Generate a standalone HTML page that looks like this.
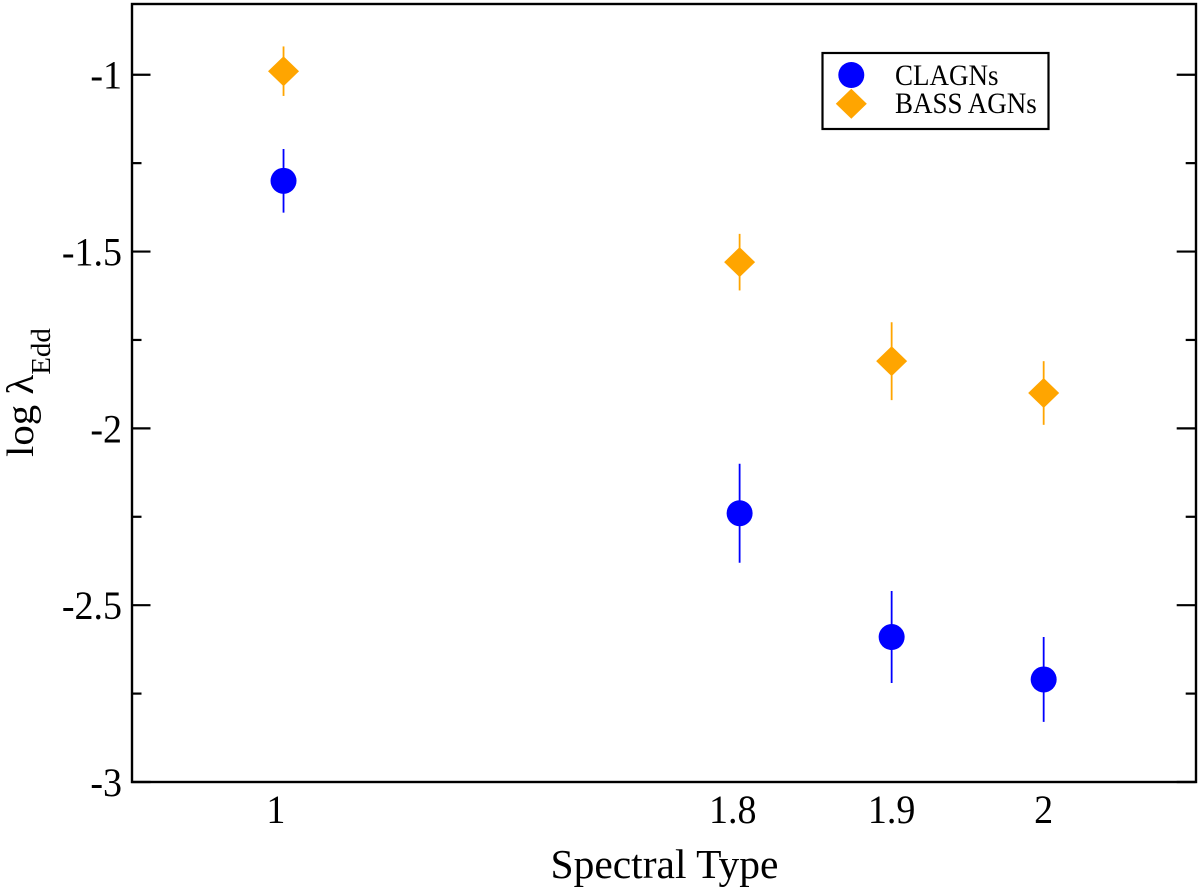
<!DOCTYPE html>
<html lang="en">
<head>
<meta charset="utf-8">
<title>log λEdd vs Spectral Type</title>
<style>
  html, body { margin: 0; padding: 0; background: #fff; }
  svg { display: block; }
  text { font-family: "Liberation Serif", serif; fill: #000; }
</style>
</head>
<body>
<svg id="chart" xmlns="http://www.w3.org/2000/svg" width="1200" height="890" viewBox="0 0 1200 890">
  <rect x="0" y="0" width="1200" height="890" fill="#fff"/>
  <g id="ticks"></g>
  <g id="tick-labels"></g>
  <g id="marks"></g>
  <rect x="132" y="4" width="1064" height="778" fill="none" stroke="#000" stroke-width="2.4"/>
  <text x="664.5" y="878" font-size="41.5" text-anchor="middle">Spectral Type</text>
  <text transform="translate(33,457) rotate(-90) scale(1.075,1)" font-size="38">log λ<tspan font-size="27" dy="17">Edd</tspan></text>
  <g>
    <rect x="822.5" y="53" width="226" height="76" fill="#fff" stroke="#000" stroke-width="2.2"/>
    <circle cx="851.3" cy="75" r="13" fill="#0000ff"/>
    <polygon points="851.3,88.7 866.8,103.7 851.3,118.7 835.8,103.7" fill="#ffa500"/>
    <text transform="translate(895,85) scale(1,1.1)" font-size="27">CLAGNs</text>
    <text transform="translate(895,113) scale(1,1.1)" font-size="27">BASS AGNs</text>
  </g>
</svg>
<script>
// Data
const categoryLabels = ['1', '1.8', '1.9', '2'];
const categorySlots = [1, 4, 5, 6];
const categoryLabelSlots = [0.95, 3.955, 5, 6];
const clagnValues = [-1.30, -2.24, -2.59, -2.71];
const clagnErrors = [0.09, 0.14, 0.13, 0.12];
const bassValues = [-0.99, -1.53, -1.81, -1.90];
const bassErrors = [0.07, 0.08, 0.11, 0.09];
const yMajorTicks = [-1, -1.5, -2, -2.5, -3];
const yMajorTickLabels = ['-1', '-1.5', '-2', '-2.5', '-3'];
const yMinorTicks = [-1.25, -1.75, -2.25, -2.75];

const NS = 'http://www.w3.org/2000/svg';
const plotLeft = 131.5, plotRight = 1195.7, plotTop = 4, plotBottom = 782;
const xMin = 0, xMax = 7, yMin = -3, yMax = -0.8;

function xScale(v) { return plotLeft + (v - xMin) / (xMax - xMin) * (plotRight - plotLeft); }
function yScale(v) { return plotBottom - (v - yMin) / (yMax - yMin) * (plotBottom - plotTop); }

function make(tag, attrs, parent) {
  const el = document.createElementNS(NS, tag);
  for (const k in attrs) el.setAttribute(k, attrs[k]);
  parent.appendChild(el);
  return el;
}

const ticksG = document.getElementById('ticks');
const labelsG = document.getElementById('tick-labels');
const marksG = document.getElementById('marks');

function drawYTick(v, len, kind) {
  const y = yScale(v);
  const left = make('line', { x1: plotLeft, x2: plotLeft + len, y1: y, y2: y, stroke: '#000', 'stroke-width': 2.2 }, ticksG);
  
  
  const right = make('line', { x1: plotRight - len, x2: plotRight, y1: y, y2: y, stroke: '#000', 'stroke-width': 2.2 }, ticksG);
  
  
}

yMajorTicks.forEach(function (v, i) {
  drawYTick(v, 19, 'major');
  const t = make('text', { transform: 'translate(122,' + (yScale(v) + 14) + ') scale(1,1.06)', 'font-size': 38, 'text-anchor': 'end' }, labelsG);
  t.textContent = yMajorTickLabels[i];
  
  
});

yMinorTicks.forEach(function (v) {
  drawYTick(v, 10, 'minor');
});

categoryLabels.forEach(function (label, i) {
  const t = make('text', { transform: 'translate(' + xScale(categoryLabelSlots[i]) + ',823) scale(1,1.06)', 'font-size': 38, 'text-anchor': 'middle' }, labelsG);
  t.textContent = label;
  
  
});

function drawError(slot, value, err, color, parent) {
  const line = make('line', {
    x1: xScale(slot), x2: xScale(slot),
    y1: yScale(value + err), y2: yScale(value - err),
    stroke: color, 'stroke-width': 1.8
  }, parent);
  
  
}

clagnValues.forEach(function (v, i) {
  const slot = categorySlots[i];
  drawError(slot, v, clagnErrors[i], '#0000ff', marksG);
  const c = make('circle', { cx: xScale(slot), cy: yScale(v), r: 13, fill: '#0000ff' }, marksG);
  
  
});

bassValues.forEach(function (v, i) {
  const slot = categorySlots[i];
  drawError(slot, v, bassErrors[i], '#ffa500', marksG);
  const cx = xScale(slot), cy = yScale(v);
  const d = make('polygon', {
    points: cx + ',' + (cy - 15) + ' ' + (cx + 15.5) + ',' + cy + ' ' + cx + ',' + (cy + 15) + ' ' + (cx - 15.5) + ',' + cy,
    fill: '#ffa500'
  }, marksG);
  
  
});
</script>
</body>
</html>
